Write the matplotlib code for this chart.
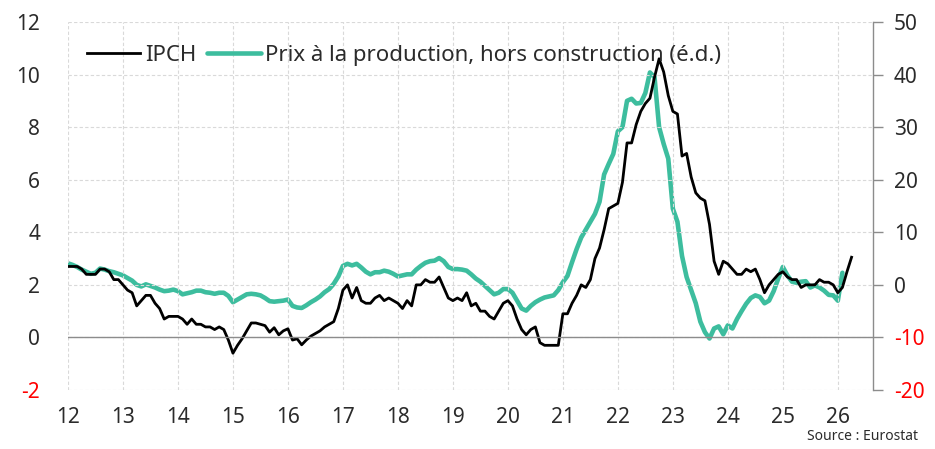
import matplotlib
matplotlib.use('Agg')
import matplotlib.pyplot as plt
import numpy as np

plt.rcParams['font.family'] = ['Noto Sans', 'DejaVu Sans']

# IPCH, glissement annuel (%), mensuel de janv. 2012 a avr. 2026
ipch = [2.7, 2.7, 2.7, 2.6, 2.4, 2.4, 2.4, 2.6, 2.6, 2.5, 2.2, 2.2,
        2.0, 1.8, 1.7, 1.2, 1.4, 1.6, 1.6, 1.3, 1.1, 0.7, 0.8, 0.8,
        0.8, 0.7, 0.5, 0.7, 0.5, 0.5, 0.4, 0.4, 0.3, 0.4, 0.3, -0.1,
        -0.6, -0.3, -0.05, 0.25, 0.55, 0.55, 0.5, 0.45, 0.2, 0.37, 0.1, 0.25,
        0.33, -0.1, -0.05, -0.28, -0.1, 0.05, 0.15, 0.25, 0.4, 0.5, 0.6, 1.1,
        1.8, 2.0, 1.5, 1.9, 1.4, 1.3, 1.3, 1.5, 1.6, 1.4, 1.5, 1.4,
        1.3, 1.1, 1.4, 1.2, 2.0, 2.0, 2.2, 2.1, 2.1, 2.3, 1.9, 1.5,
        1.4, 1.5, 1.4, 1.7, 1.2, 1.3, 1.0, 1.0, 0.8, 0.7, 1.0, 1.3,
        1.4, 1.2, 0.7, 0.3, 0.1, 0.3, 0.4, -0.2, -0.3, -0.3, -0.3, -0.3,
        0.9, 0.9, 1.3, 1.6, 2.0, 1.9, 2.2, 3.0, 3.4, 4.1, 4.9, 5.0,
        5.1, 5.9, 7.4, 7.4, 8.1, 8.6, 8.9, 9.1, 9.9, 10.6, 10.1, 9.2,
        8.6, 8.5, 6.9, 7.0, 6.1, 5.5, 5.3, 5.2, 4.3, 2.9, 2.4, 2.9,
        2.8, 2.6, 2.4, 2.4, 2.6, 2.5, 2.6, 2.2, 1.7, 2.0, 2.2, 2.4,
        2.5, 2.3, 2.2, 2.2, 1.9, 2.0, 2.0, 2.0, 2.2, 2.1, 2.1, 2.0,
        1.7, 1.9, 2.5, 3.05]

# Prix a la production hors construction (%), echelle de droite, janv. 2012 a mars 2026
ppi = [4.1, 3.8, 3.4, 2.9, 2.5, 2.1, 2.3, 3.1, 2.9, 2.6, 2.4, 2.1,
       1.8, 1.3, 0.8, 0.0, -0.3, 0.1, -0.2, -0.5, -0.9, -1.2, -1.1, -0.9,
       -1.2, -1.8, -1.6, -1.4, -1.1, -1.1, -1.4, -1.5, -1.7, -1.5, -1.5, -2.1,
       -3.3, -2.8, -2.3, -1.8, -1.7, -1.8, -2.0, -2.5, -3.1, -3.2, -3.1, -3.0,
       -2.8, -4.0, -4.3, -4.4, -3.9, -3.3, -2.8, -2.2, -1.4, -0.8, 0.2, 1.6,
       3.6, 4.0, 3.7, 4.0, 3.3, 2.5, 2.0, 2.4, 2.4, 2.7, 2.5, 2.1,
       1.6, 1.8, 2.0, 2.0, 2.9, 3.6, 4.2, 4.5, 4.6, 5.1, 4.5, 3.4,
       3.0, 3.0, 2.9, 2.7, 2.0, 1.2, 0.6, -0.2, -1.0, -1.8, -1.5, -0.8,
       -0.8, -1.5, -3.0, -4.5, -4.9, -4.0, -3.3, -2.8, -2.4, -2.2, -2.0, -1.0,
       0.5, 1.7, 4.3, 6.8, 9.0, 10.5, 12.0, 13.5, 15.8, 21.0, 23.0, 24.9,
       29.2, 30.0, 35.0, 35.4, 34.5, 34.6, 36.5, 40.4, 39.5, 30.0, 26.8, 24.0,
       14.5, 12.0, 5.5, 1.5, -1.0, -3.5, -7.0, -9.0, -10.2, -8.3, -7.9, -9.4,
       -7.7, -8.3, -6.5, -5.0, -3.6, -2.5, -2.0, -2.3, -3.5, -3.0, -1.2, 1.2,
       3.4, 1.8, 0.6, 0.4, 0.6, 0.7, -0.5, -0.1, -0.5, -1.1, -1.9, -2.0,
       -3.0, 2.3]

x_ipch = 12 + np.arange(len(ipch)) / 12
x_ppi = 12 + np.arange(len(ppi)) / 12

years = list(range(12, 27))
left_ticks = [-2, 0, 2, 4, 6, 8, 10, 12]
right_ticks = [-20, -10, 0, 10, 20, 30, 40, 50]

green = '#3dbd9e'
txt = '#2b2b2b'

fig = plt.figure(figsize=(9.35, 4.49), dpi=100)
ax = fig.add_axes([0.0727, 0.1314, 0.861, 0.8196])
ax2 = ax.twinx()

ax2.plot(x_ppi, ppi, color=green, lw=3.3, solid_capstyle='round', solid_joinstyle='round',
         label='Prix à la production, hors construction (é.d.)')
ax.plot(x_ipch, ipch, color='black', lw=2.0, label='IPCH')

ax.set_zorder(ax2.get_zorder() + 1)
ax.patch.set_visible(False)

ax.set_xlim(12, 26.64)
ax.set_ylim(-2, 12)
ax2.set_ylim(-20, 50)
ax.set_xticks(years)
ax.set_xticklabels([str(y) for y in years])
ax.set_yticks(left_ticks)
ax.set_yticklabels([str(t) for t in left_ticks])
ax2.set_yticks(right_ticks)
ax2.set_yticklabels([str(t) for t in right_ticks])

ax.grid(True, color='#d9d9d9', ls=(0, (3, 2)), lw=0.8)
ax.axhline(0, color='#8c8c8c', lw=1.0, zorder=2)

for a in (ax, ax2):
    for s in ('left', 'top', 'bottom'):
        a.spines[s].set_visible(False)
ax.spines['right'].set_visible(False)
ax2.spines['right'].set_color('#8c8c8c')
ax2.spines['right'].set_linewidth(1.0)

ax.tick_params(axis='x', length=0, pad=12, labelsize=15, labelcolor=txt)
ax.tick_params(axis='y', length=0, pad=20, labelsize=15, labelcolor=txt)
ax2.tick_params(axis='y', length=7, width=1.0, color='#8c8c8c', pad=8, labelsize=15, labelcolor=txt)

for lab, t in zip(ax.get_yticklabels(), left_ticks):
    if t < 0:
        lab.set_color('red')
for lab, t in zip(ax2.get_yticklabels(), right_ticks):
    if t < 0:
        lab.set_color('red')

h1, l1 = ax.get_legend_handles_labels()
h2, l2 = ax2.get_legend_handles_labels()
leg = ax.legend(h1 + h2, l1 + l2, loc='upper left', bbox_to_anchor=(0.007, 0.975), ncol=2,
                frameon=False, fontsize=16, handlelength=2.4, handletextpad=0.2,
                columnspacing=0.5, borderaxespad=0.2)
for t in leg.get_texts():
    t.set_color(txt)

fig.text(0.982, 0.012, 'Source : Eurostat', ha='right', va='bottom', fontsize=10, color=txt)

fig.savefig('out.png', dpi=100)
